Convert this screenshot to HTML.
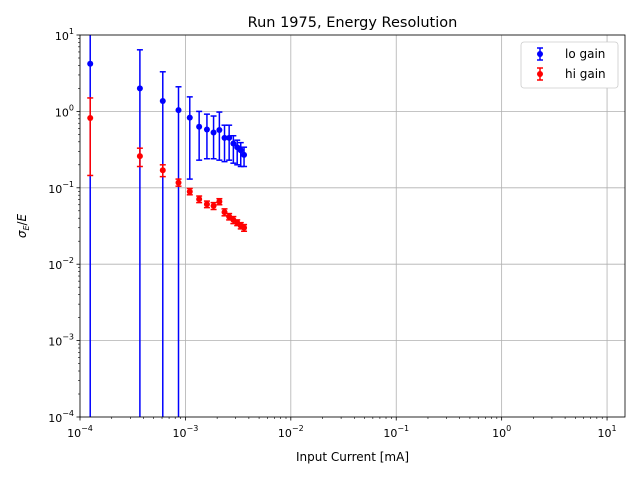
<!DOCTYPE html>
<html><head><meta charset="utf-8"><style>
body{margin:0;background:#fff;font-family:"Liberation Sans","DejaVu Sans",sans-serif}
svg text{font-family:"DejaVu Sans","Liberation Sans",sans-serif}
</style></head><body>
<svg id="chart" width="640" height="480" xmlns="http://www.w3.org/2000/svg"></svg>
<script>
const current = [1.25e-4,3.7e-4,6.1e-4,8.6e-4,1.1e-3,1.35e-3,1.6e-3,1.85e-3,2.1e-3,2.35e-3,2.6e-3,2.85e-3,3.1e-3,3.35e-3,3.6e-3];
const loVal = [4.2,2.0,1.37,1.04,0.83,0.63,0.58,0.53,0.57,0.45,0.45,0.38,0.34,0.31,0.27];
const loUp  = [30,6.4,3.3,2.1,1.55,1.0,0.92,0.87,0.98,0.66,0.66,0.48,0.42,0.39,0.34];
const loLo  = [1e-6,1e-6,1e-6,1e-6,0.13,0.23,0.24,0.24,0.23,0.22,0.23,0.21,0.2,0.19,0.19];
const hiVal = [0.82,0.26,0.17,0.117,0.089,0.071,0.061,0.058,0.066,0.048,0.042,0.038,0.035,0.032,0.030];
const hiUp  = [1.5,0.33,0.2,0.13,0.098,0.078,0.067,0.064,0.072,0.053,0.046,0.042,0.038,0.035,0.033];
const hiLo  = [0.145,0.19,0.14,0.105,0.081,0.064,0.055,0.052,0.06,0.043,0.038,0.034,0.032,0.029,0.027];
const xTicks = [-4,-3,-2,-1,0,1];
const yTicks = [1,0,-1,-2,-3,-4];

const L=80,R=625,T=35,B=417;
const xMinL=-4, xMaxL=Math.log10(14.8);
const X=v=>L+(Math.log10(v)-xMinL)/(xMaxL-xMinL)*(R-L);
const Y=v=>{let l=Math.log10(v);l=Math.max(-4.3,Math.min(1.3,l));return T+(1-l)/5*(B-T);};
const svg=document.getElementById('chart');
const NS='http://www.w3.org/2000/svg';
function mk(tag,attrs,parent){const e=document.createElementNS(NS,tag);for(const k in attrs)e.setAttribute(k,attrs[k]);(parent||svg).appendChild(e);return e;}

const defs=mk('defs',{});const cp=mk('clipPath',{id:'pc'},defs);mk('rect',{x:L,y:T,width:R-L,height:B-T},cp);

const grid=mk('g',{});


xTicks.forEach(t=>{const x=L+(t-xMinL)/(xMaxL-xMinL)*(R-L);
 mk('line',{x1:x,x2:x,y1:T,y2:B,stroke:'#b0b0b0','stroke-width':0.8},grid);
 mk('line',{x1:x,x2:x,y1:B,y2:B+3.5,stroke:'#000','stroke-width':0.8});
 const tx=mk('text',{x:x,y:B+20,'font-size':11,'text-anchor':'middle'});
 
 
 tx.innerHTML='10<tspan dy="-6" font-size="8">'+(t<0?'−'+(-t):t)+'</tspan>';
 for(let k=2;k<10;k++){const xm=L+(t+Math.log10(k)-xMinL)/(xMaxL-xMinL)*(R-L);if(xm<=R)mk('line',{x1:xm,x2:xm,y1:B,y2:B+2,stroke:'#000','stroke-width':0.6});}
});
yTicks.forEach(t=>{const y=Y(Math.pow(10,t));
 mk('line',{x1:L,x2:R,y1:y,y2:y,stroke:'#b0b0b0','stroke-width':0.8},grid);
 mk('line',{x1:L-3.5,x2:L,y1:y,y2:y,stroke:'#000','stroke-width':0.8});
 const tx=mk('text',{x:L-6,y:y+5,'font-size':11,'text-anchor':'end'});
 
 
 tx.innerHTML='10<tspan dy="-6" font-size="8">'+(t<0?'−'+(-t):t)+'</tspan>';
 if(t>-4)for(let k=2;k<10;k++){const ym=Y(Math.pow(10,t-1)*k);mk('line',{x1:L-2,x2:L,y1:ym,y2:ym,stroke:'#000','stroke-width':0.6});}
});

function series(vals,up,lo,color,name){
 const g=mk('g',{'clip-path':'url(#pc)'});
 
 
 current.forEach((c,i)=>{const x=X(c);
  mk('line',{x1:x,x2:x,y1:Y(up[i]),y2:Y(lo[i]),stroke:color,'stroke-width':1.5},g);
  mk('line',{x1:x-3,x2:x+3,y1:Y(up[i]),y2:Y(up[i]),stroke:color,'stroke-width':1.5},g);
  mk('line',{x1:x-3,x2:x+3,y1:Y(lo[i]),y2:Y(lo[i]),stroke:color,'stroke-width':1.5},g);
  mk('circle',{cx:x,cy:Y(vals[i]),r:3,fill:color},g);
 });
}
series(loVal,loUp,loLo,'#0000ff','lo-gain-series');
series(hiVal,hiUp,hiLo,'#ff0000','hi-gain-series');

mk('rect',{x:L,y:T,width:R-L,height:B-T,fill:'none',stroke:'#000','stroke-width':0.8});

const title=mk('text',{x:(L+R)/2,y:27,'font-size':14.5,'text-anchor':'middle'});


title.textContent='Run 1975, Energy Resolution';
const xl=mk('text',{x:(L+R)/2,y:461,'font-size':12,'text-anchor':'middle'});


xl.textContent='Input Current [mA]';
const yl=mk('text',{x:0,y:0,'font-size':12,'text-anchor':'middle',transform:'translate(26,226) rotate(-90)'});


yl.innerHTML='<tspan font-style="italic">σ</tspan><tspan font-size="8" dy="3" font-style="italic">E</tspan><tspan dy="-3">/</tspan><tspan font-style="italic">E</tspan>';

const lg=mk('g',{});


mk('rect',{x:521,y:42,width:97,height:46,rx:3,fill:'#fff',stroke:'#ccc','stroke-width':0.8},lg);
[['lo gain','#0000ff',54],['hi gain','#ff0000',74]].forEach(([t,c,y])=>{
 const e=mk('g',{},lg);
 
 
 mk('line',{x1:540,x2:540,y1:y-6,y2:y+6,stroke:c,'stroke-width':1.5},e);
 mk('line',{x1:537,x2:543,y1:y-6,y2:y-6,stroke:c,'stroke-width':1.5},e);
 mk('line',{x1:537,x2:543,y1:y+6,y2:y+6,stroke:c,'stroke-width':1.5},e);
 mk('circle',{cx:540,cy:y,r:3,fill:c},e);
 const tx=mk('text',{x:565,y:y+4,'font-size':12},e);tx.textContent=t;
});
</script>
</body></html>
